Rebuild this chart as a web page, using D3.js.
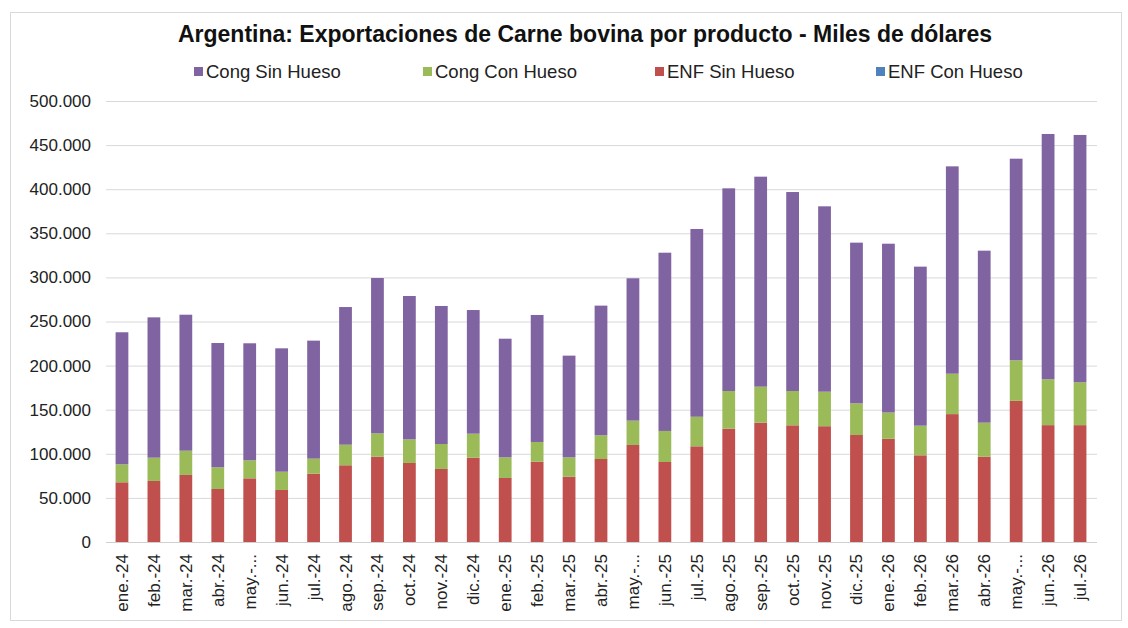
<!DOCTYPE html>
<html>
<head>
<meta charset="utf-8">
<script src="https://cdn.jsdelivr.net/npm/d3@7"></script>
<style>
  body { margin: 0; background: #fff; }
  text { font-family: "Liberation Sans", Arial, sans-serif; }
</style>
</head>
<body>
<script>
// categories (month labels as shown on the axis)
const months = ["ene.-24","feb.-24","mar.-24","abr.-24","may.-...","jun.-24","jul.-24","ago.-24","sep.-24","oct.-24","nov.-24","dic.-24",
                "ene.-25","feb.-25","mar.-25","abr.-25","may.-...","jun.-25","jul.-25","ago.-25","sep.-25","oct.-25","nov.-25","dic.-25",
                "ene.-26","feb.-26","mar.-26","abr.-26","may.-...","jun.-26","jul.-26"];

// series, miles de dólares
const enfSinHueso = [67700,69200,76000,60100,72200,59000,77500,87000,96700,89600,82800,95600,
                     72600,91000,74000,94100,110000,90700,108500,128500,135300,132300,131300,121300,
                     117000,98300,145000,96700,160000,132500,132500];
const congConHueso = [20400,26400,27500,24600,20400,20700,17000,23300,26500,26800,28300,27200,
                      23400,22400,22000,26900,27600,35200,33500,42700,40800,38900,39100,35900,
                      29800,33600,45800,38600,46000,52000,48600];
const congSinHueso = [149700,159100,154200,140900,132700,139900,133800,156100,176100,162500,156500,140200,
                      134500,144000,115300,147000,161400,202100,212900,229800,238100,225600,210200,182200,
                      191400,180300,235100,195000,228600,278100,280400];
const enfConHueso = [0,0,0,0,0,0,0,0,0,0,0,0,0,0,0,0,0,0,0,0,0,0,0,0,0,0,0,0,0,0,0];

const yTicks = [0,50000,100000,150000,200000,250000,300000,350000,400000,450000,500000];

const seriesNames = ["Cong Sin Hueso","Cong Con Hueso","ENF Sin Hueso","ENF Con Hueso"];
const colors = {"Cong Sin Hueso":"#8064A2","Cong Con Hueso":"#9BBB59","ENF Sin Hueso":"#C0504D","ENF Con Hueso":"#4F81BD"};

const W = 1128, H = 628;
const plot = {left: 106, right: 1096, top: 101, bottom: 542};

const svg = d3.select("body").append("svg")
    .attr("width", W).attr("height", H);

// chart frame
svg.append("rect")
    .attr("x", 10.5).attr("y", 12.5)
    .attr("width", 1111).attr("height", 608)
    .attr("fill", "#fff").attr("stroke", "#d9d9d9");

// title
svg.append("text")
    .attr("x", 585).attr("y", 42)
    .attr("text-anchor", "middle")
    .attr("font-size", 23).attr("font-weight", "bold").attr("fill", "#111")
    .text("Argentina: Exportaciones de Carne bovina por producto - Miles de dólares");

// legend
const legendX = [194, 423, 655, 876];
const legend = svg.append("g");
seriesNames.forEach(function(name, i) {
    legend.append("rect")
        .attr("x", legendX[i]).attr("y", 67)
        .attr("width", 9).attr("height", 9)
        .attr("fill", colors[name]);
    legend.append("text")
        .attr("x", legendX[i] + 12).attr("y", 78)
        .attr("font-size", 18.5).attr("fill", "#222")
        .text(name);
});

// scales
const x = d3.scaleBand()
    .domain(months.map(function(d, i) { return i; }))
    .range([plot.left, plot.right])
    .paddingInner(0.6).paddingOuter(0.3);

const y = d3.scaleLinear()
    .domain([0, 500000])
    .range([plot.bottom, plot.top]);

const locale = d3.formatLocale({decimal: ",", thousands: ".", grouping: [3], currency: ["$", ""]});
const fmt = locale.format(",d");

// gridlines + y labels
const yAxis = svg.append("g")
    .attr("transform", "translate(" + plot.left + ",0)")
    .call(d3.axisLeft(y).tickValues(yTicks).tickFormat(fmt)
        .tickSize(-(plot.right - plot.left + 1)).tickPadding(15));
yAxis.select(".domain").remove();
yAxis.selectAll(".tick line").attr("stroke", "#d9d9d9");
yAxis.selectAll(".tick text")
    .attr("font-size", 17).attr("fill", "#222")
    .style("font-family", "'Liberation Sans', Arial, sans-serif");

// stacked data
const rows = months.map(function(m, i) {
    return {
        idx: i,
        "ENF Con Hueso": enfConHueso[i],
        "ENF Sin Hueso": enfSinHueso[i],
        "Cong Con Hueso": congConHueso[i],
        "Cong Sin Hueso": congSinHueso[i]
    };
});
const stack = d3.stack()
    .keys(["ENF Con Hueso","ENF Sin Hueso","Cong Con Hueso","Cong Sin Hueso"]);
const layers = stack(rows);

svg.append("g").selectAll("g")
    .data(layers)
    .enter().append("g")
        .attr("fill", function(d) { return colors[d.key]; })
    .selectAll("rect")
    .data(function(d) { return d; })
    .enter().append("rect")
        .attr("x", function(d) { return x(d.data.idx); })
        .attr("y", function(d) { return y(d[1]); })
        .attr("height", function(d) { return y(d[0]) - y(d[1]); })
        .attr("width", x.bandwidth());

// baseline
svg.append("line")
    .attr("x1", plot.left).attr("x2", plot.right + 1)
    .attr("y1", plot.bottom + 0.5).attr("y2", plot.bottom + 0.5)
    .attr("stroke", "#d0d0d0");

// x labels, rotated
svg.append("g").selectAll("text")
    .data(months)
    .enter().append("text")
        .attr("transform", function(d, i) {
            return "translate(" + (x(i) + x.bandwidth() / 2 + 6) + "," + 554 + ") rotate(-90)";
        })
        .attr("text-anchor", "end")
        .attr("font-size", 17).attr("fill", "#222")
        .text(function(d) { return d; });
</script>
</body>
</html>
